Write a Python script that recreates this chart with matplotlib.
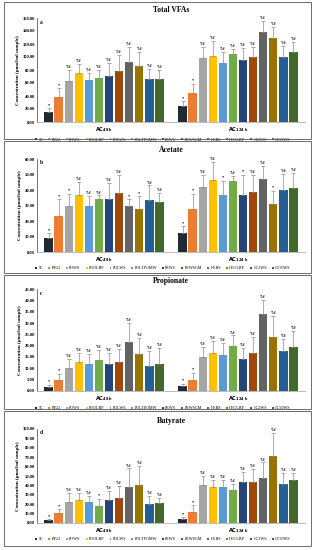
import matplotlib
matplotlib.use("Agg")
import matplotlib.pyplot as plt
from matplotlib.patches import Rectangle
import numpy as np

plt.rcParams['font.family'] = ['Liberation Serif', 'DejaVu Serif']

# ---- data ----
treatments = ['SC', 'INU2', 'POWS', 'POOLRP', 'POLWS', 'POLTPOMW', 'PEWS',
              'PEWSGM', 'HEBS', 'HEOLRP', 'CC2WS', 'CC50WS']
colors = ['#1f2a36', '#ED7D31', '#A5A5A5', '#FFC000', '#5B9BD5', '#70AD47',
          '#264478', '#9E480E', '#636363', '#997300', '#255E91', '#43682B']
groups = [r'$\mathbf{AC}_{\mathbf{48\ h}}$', r'$\mathbf{AC}_{\mathbf{124\ h}}$']

vfa_48 = [16, 39, 63, 75, 65, 68, 71, 78, 93, 86, 66, 66]
vfa_48_err = [5, 13, 17, 15, 11, 12, 20, 25, 22, 21, 16, 14]
vfa_124 = [24, 45, 98, 102, 91, 104, 96, 100, 138, 130, 100, 108]
vfa_124_err = [8, 14, 17, 23, 17, 9, 18, 16, 17, 16, 17, 15]

ace_48 = [9, 23.5, 29.5, 37, 30, 34, 34.5, 38, 30, 28, 33.5, 32]
ace_48_err = [3, 10.5, 8, 8, 6, 2.5, 10, 11.5, 4, 8, 9.5, 6]
ace_124 = [12.5, 27.5, 42, 46.5, 36.5, 46, 37, 39, 47, 31, 40, 41.5]
ace_124_err = [4, 10, 7.5, 11.5, 9.5, 3, 13, 10.5, 8.5, 8.5, 10.5, 9.5]

pro_48 = [1.8, 4.7, 10.3, 12.8, 11.8, 13.8, 11.7, 13, 21.5, 16.5, 11.2, 12]
pro_48_err = [1, 2.8, 3.8, 3.8, 4.5, 4.5, 5, 5.5, 8.5, 7, 6.5, 7]
pro_124 = [2.3, 5, 15, 16.7, 15.7, 20, 14, 16.7, 34, 24, 17.5, 19.5]
pro_124_err = [1, 3, 4.5, 5.5, 5.5, 4.5, 5, 7, 6, 9, 5.5, 7]

but_48 = [3, 10.5, 22, 24, 22, 18.5, 24.5, 26.5, 38, 40, 20, 21]
but_48_err = [1, 4, 10, 8, 7, 7, 10, 13, 20, 21, 9, 6]
but_124 = [4.5, 12, 40, 38, 38, 35.5, 44, 43.5, 47.5, 71, 41.5, 45.5]
but_124_err = [1.5, 7, 10, 8, 8, 6, 10, 14, 17, 25, 12, 8]

S, SH = '*', '*,#'
vfa_sig = [[S, S] + [SH] * 10, [S, S] + [SH] * 10]
ace_sig = [[S, S, S, SH, SH, SH, SH, SH, S, S, SH, SH],
           [S, S, SH, SH, S, SH, S, SH, SH, S, SH, SH]]
pro_sig = [[S, S] + [SH] * 10, [S, S] + [SH] * 10]
but_sig = [[S, S, SH, SH, SH, S, SH, SH, SH, SH, SH, SH],
           [S, S] + [SH] * 10]

W, H = 314, 550


def px(x0, y0, x1, y1):
    return [x0 / W, 1 - y1 / H, (x1 - x0) / W, (y1 - y0) / H]


def panel(top, bot, title_y, title, letter, v48, e48, v124, e124, sig, ymax, step, box):
    ax = fig.add_axes(px(37, top, 305, bot))
    pitch = 0.075
    bw = 0.064
    offs = (np.arange(12) - 5.5) * pitch
    for g, (vals, errs) in enumerate([(v48, e48), (v124, e124)]):
        for i in range(12):
            x = g + offs[i]
            ax.bar(x, vals[i], width=bw, color=colors[i],
                   label=treatments[i] if g == 0 else None)
            ax.errorbar(x, vals[i], yerr=[[0], [errs[i]]], color='#8c8c8c',
                        lw=0.5, capsize=1.2, capthick=0.5)
            ax.text(x, vals[i] + errs[i] + ymax * 0.012, sig[g][i], ha='center',
                    va='bottom', fontsize=3.2, fontweight='bold')
    ax.set_xlim(-0.5, 1.5)
    ax.set_ylim(0, ymax)
    ax.set_yticks(np.arange(0, ymax + step / 2, step))
    ax.set_yticklabels(['%.2f' % t for t in np.arange(0, ymax + step / 2, step)],
                       fontsize=3.3, fontweight='bold')
    ax.set_xticks([0, 1])
    ax.set_xticklabels(groups, fontsize=3.6)
    ax.tick_params(axis='both', length=0, pad=1.5)
    ax.tick_params(axis='x', pad=2)
    for s in ['top', 'right']:
        ax.spines[s].set_visible(False)
    ax.spines['left'].set_color('#404040')
    ax.spines['bottom'].set_color('#b0b0b0')
    ax.spines['left'].set_linewidth(0.5)
    ax.spines['bottom'].set_linewidth(0.6)
    ax.set_ylabel('Concentration (µmol/ml sample)', fontsize=3.6, fontweight='bold', labelpad=2)
    ax.text(0.012, 0.985, letter, transform=ax.transAxes, fontsize=4, fontweight='bold',
            va='top')
    fig.text(171 / W, 1 - title_y / H, title, ha='center', va='center',
             fontsize=5.5, fontweight='bold')
    ax.legend(loc='upper center', bbox_to_anchor=(0.47, -0.13), ncol=12,
              fontsize=3.0, frameon=False, handlelength=0.45, handleheight=0.45,
              handletextpad=0.3, columnspacing=1.25, borderpad=0)
    fig.add_artist(Rectangle((4 / W, 1 - box[1] / H), 307 / W, (box[1] - box[0]) / H,
                             transform=fig.transFigure, fill=False, ec='#555555', lw=0.6))


fig = plt.figure(figsize=(3.14, 5.5), dpi=100)

panel(18, 122, 10, 'Total VFAs', 'a', vfa_48, vfa_48_err, vfa_124, vfa_124_err,
      vfa_sig, 160, 20, (2, 139))
panel(159, 252, 150, 'Acetate', 'b', ace_48, ace_48_err, ace_124, ace_124_err,
      ace_sig, 60, 10, (141, 273))
panel(289, 391, 281, 'Propionate', 'c', pro_48, pro_48_err, pro_124, pro_124_err,
      pro_sig, 45, 5, (275, 409))
panel(429, 523, 421, 'Butyrate', 'd', but_48, but_48_err, but_124, but_124_err,
      but_sig, 100, 10, (411, 546))

fig.savefig('out.png', dpi=100)
